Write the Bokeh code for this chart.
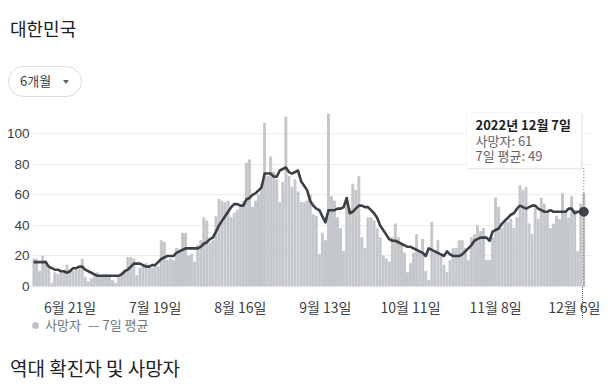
from bokeh.plotting import figure
from bokeh.models import Label, FixedTicker, Range1d, BoxAnnotation, Arrow, Div
from bokeh.layouts import column
from bokeh.embed import file_html
from bokeh.resources import INLINE

# Daily deaths, 2022-06-09 .. 2022-12-07 (one value per day)
deaths = [
    18, 18, 10, 20, 17, 12, 2,
    9, 8, 9, 10, 14, 11, 10,
    11, 12, 18, 6, 3, 5, 8,
    9, 7, 7, 8, 6, 4, 2,
    6, 9, 11, 19, 19, 18, 7,
    12, 14, 15, 14, 12, 13, 13,
    30, 29, 17, 18, 17, 25, 24,
    35, 35, 20, 21, 16, 27, 30,
    45, 43, 28, 30, 46, 57, 56,
    55, 56, 45, 48, 50, 52, 56,
    81, 83, 52, 56, 60, 67, 107,
    72, 85, 75, 70, 55, 68, 111,
    72, 65, 70, 62, 55, 55, 56,
    60, 47, 46, 21, 35, 30, 113,
    59, 56, 45, 38, 23, 57, 51,
    67, 63, 72, 32, 25, 45, 45,
    43, 38, 32, 20, 18, 16, 32,
    41, 32, 28, 22, 9, 15, 22,
    34, 23, 31, 10, 4, 42, 23,
    30, 20, 14, 9, 17, 25, 25,
    30, 30, 25, 17, 32, 34, 40,
    36, 38, 17, 17, 32, 58, 52,
    38, 44, 42, 44, 38, 45, 66,
    63, 65, 41, 34, 51, 44, 58,
    54, 48, 38, 41, 46, 44, 61,
    48, 45, 59, 50, 23, 54, 61,
]

# 7-day average as drawn
avg7 = [
    16, 16, 16, 16, 16, 13, 12, 11, 11, 10,
    10, 9, 10, 12, 12, 13, 13, 11, 10, 9,
    8, 7, 7, 7, 7, 7, 7, 7, 7, 8,
    10, 11, 13, 15, 15, 15, 14, 13, 13, 14,
    14, 16, 18, 19, 20, 20, 20, 22, 23, 24,
    25, 25, 25, 25, 25, 26, 28, 29, 31, 32,
    36, 40, 43, 46, 49, 52, 54, 54, 53, 53,
    57, 58, 60, 61, 63, 65, 74, 74, 74, 72,
    72, 76, 77, 78, 75, 74, 75, 76, 69, 66,
    63, 56, 53, 51, 50, 46, 42, 50, 50, 50,
    51, 51, 52, 58, 48, 49, 51, 53, 53, 52,
    52, 50, 48, 45, 40, 37, 34, 31, 30, 30,
    29, 28, 27, 26, 26, 25, 24, 23, 22, 20,
    25, 24, 23, 22, 21, 20, 23, 21, 20, 20,
    20, 21, 23, 25, 27, 30, 31, 32, 32, 32,
    30, 36, 37, 38, 41, 43, 45, 47, 48, 51,
    53, 52, 51, 52, 53, 53, 51, 50, 49, 49,
    50, 49, 49, 49, 49, 49, 51, 51, 48, 49,
    49, 49,
]

days = list(range(len(deaths)))
tick_days = [12, 40, 68, 96, 124, 152, 180]
tick_labels = ["6월 21일", "7월 19일", "8월 16일", "9월 13일", "10월 11일", "11월 8일", "12월 6일"]
y_ticks = [0, 20, 40, 60, 80, 100]
last_date_label = "2022년 12월 7일"

KR = "Noto Sans CJK KR"

X0, X1 = -0.35, 183.2
Y0, Y1 = 0, 118.6
p = figure(width=600, height=219, output_backend="svg", toolbar_location=None,
           x_range=Range1d(X0, X1), y_range=Range1d(Y0, Y1),
           min_border_left=32, min_border_right=10, min_border_top=5, min_border_bottom=32)
p.outline_line_color = None
p.background_fill_color = "white"
p.border_fill_color = "white"

# page-pixel helpers for tooltip placement (frame: left page x 32, bottom page y 287)
XS = 558 / (X1 - X0)
YS = 182 / (Y1 - Y0)
def dx(px):
    return X0 + (px - 32) / XS
def dy(py):
    return (287 - py) / YS

p.vbar(x=days, top=deaths, width=0.62, color="#c3c6ca")
p.line(days, avg7, line_color="#3c4043", line_width=2.6, line_join="round")
p.scatter([days[-1]], [avg7[-1]], size=9, color="#3c4043")

p.xaxis.ticker = FixedTicker(ticks=tick_days, minor_ticks=[])
p.xaxis.major_label_overrides = dict(zip(tick_days, tick_labels))
p.xaxis.axis_line_color = None
p.xaxis.major_tick_line_color = None
p.xaxis.minor_tick_line_color = None
p.xaxis.major_label_standoff = 4
p.xaxis.major_label_text_font = KR
p.xaxis.major_label_text_font_size = "14px"
p.xaxis.major_label_text_color = "#3c4043"

p.yaxis.ticker = FixedTicker(ticks=y_ticks, minor_ticks=[])
p.yaxis.axis_line_color = None
p.yaxis.major_tick_line_color = None
p.yaxis.minor_tick_line_color = None
p.yaxis.major_label_standoff = -3
p.yaxis.major_label_text_font = "Liberation Sans"
p.yaxis.major_label_text_font_size = "13.5px"
p.yaxis.major_label_text_color = "#3c4043"

p.xgrid.grid_line_color = None
p.ygrid.grid_line_color = "#ececec"

# tooltip
last = days[-1]
shadow = BoxAnnotation(left=dx(467), right=dx(582), bottom=dy(169), top=dy(113),
                       fill_color="black", fill_alpha=0.12, line_color=None)
box = BoxAnnotation(left=dx(466), right=dx(581), bottom=dy(168), top=dy(112),
                    fill_color="white", fill_alpha=1, line_color="#e3e3e3", line_width=1)
p.add_layout(shadow)
p.add_layout(box)
p.add_layout(Arrow(end=None, x_start=last, y_start=dy(168), x_end=last, y_end=dy(288),
                   line_dash="1 2", line_color="#5f6368", line_width=1))
p.add_layout(Label(x=dx(475), y=dy(124), text=last_date_label, text_font=KR,
                   text_font_size="13px", text_font_style="bold", text_color="#202124",
                   text_baseline="middle"))
p.add_layout(Label(x=dx(475), y=dy(140), text=f"사망자: {deaths[-1]}", text_font=KR,
                   text_font_size="13px", text_color="#5f6368", text_baseline="middle"))
p.add_layout(Label(x=dx(475), y=dy(155), text=f"7일 평균: {avg7[-1]}", text_font=KR,
                   text_font_size="13px", text_color="#5f6368", text_baseline="middle"))

FONT = "font-family:'Noto Sans CJK KR',sans-serif;"
top_html = (
    f'<div style="position:relative;width:600px;height:100px;{FONT}">'
    '<div style="position:absolute;left:10px;top:16px;font-size:18px;line-height:24px;'
    'color:#202124;white-space:nowrap">대한민국</div>'
    '<div style="position:absolute;left:8px;top:66px;width:74px;height:31px;box-sizing:border-box;'
    'border:1px solid #dadce0;border-radius:16px;"></div>'
    '<div style="position:absolute;left:20px;top:71px;font-size:13px;line-height:20px;'
    'color:#3c4043;white-space:nowrap">6개월</div>'
    '<div style="position:absolute;left:63px;top:80px;width:0;height:0;'
    'border-left:3px solid transparent;border-right:3px solid transparent;'
    'border-top:4px solid #5f6368"></div>'
    '</div>'
)
bottom_html = (
    f'<div style="position:relative;width:600px;height:70px;{FONT}">'
    '<div style="position:absolute;left:582px;top:-32px;width:0;height:31px;'
    'border-left:1px dotted #5f6368"></div>'
    '<div style="position:absolute;left:32px;top:3px;width:7px;height:7px;border-radius:50%;'
    'background:#bdc1c6"></div>'
    '<div style="position:absolute;left:45px;top:-3px;font-size:13px;line-height:18px;'
    'color:#70757a;white-space:nowrap">사망자</div>'
    '<div style="position:absolute;left:88px;top:-3px;font-size:13px;line-height:18px;'
    'color:#70757a;white-space:nowrap">— 7일 평균</div>'
    '<div style="position:absolute;left:10px;top:38px;font-size:19px;line-height:22px;'
    'color:#202124;white-space:nowrap">역대 확진자 및 사망자</div>'
    '</div>'
)
div_top = Div(text=top_html, width=600, height=100, margin=0)
div_bottom = Div(text=bottom_html, width=600, height=70, margin=0)

layout = column(div_top, p, div_bottom, spacing=0)
open("out.html", "w").write(file_html(layout, INLINE))
